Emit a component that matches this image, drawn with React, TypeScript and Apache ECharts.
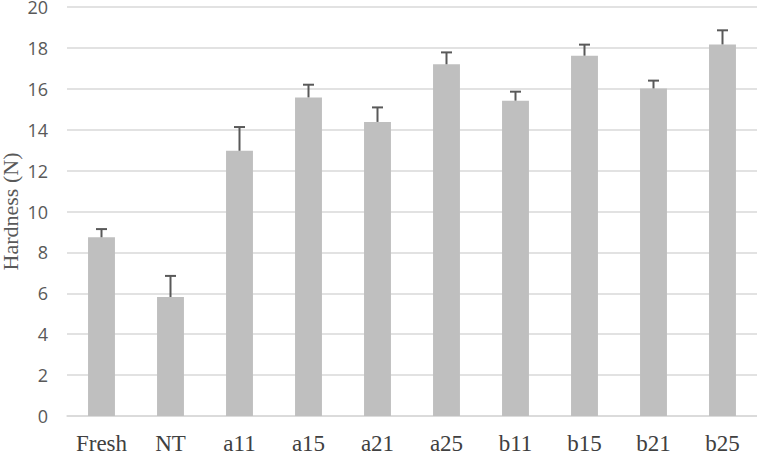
import React, { useEffect, useRef } from "react";
import * as echarts from "echarts";

const categories = ["Fresh", "NT", "a11", "a15", "a21", "a25", "b11", "b15", "b21", "b25"];
const hardness = [8.74, 5.82, 12.97, 15.58, 14.38, 17.2, 15.42, 17.62, 16.02, 18.17];
const errorUp = [0.4, 1.03, 1.16, 0.62, 0.71, 0.58, 0.44, 0.54, 0.38, 0.69];
const yTicks = { min: 0, max: 20, interval: 2 };

export default function App() {
  const ref = useRef<HTMLDivElement>(null);
  useEffect(() => {
    if (!ref.current) return;
    const chart = echarts.init(ref.current, undefined, { renderer: "svg" });
    const errData = categories.map((c, i) => [i, hardness[i], hardness[i] + errorUp[i]]);
    chart.setOption({
      animation: false,
      grid: { left: 67, right: 0, top: 7, bottom: 36, containLabel: false, outerBoundsMode: "none" },
      xAxis: {
        type: "category",
        data: categories,
        axisLine: { show: true, lineStyle: { color: "#d9d9d9", width: 1.5 } },
        axisTick: { show: false },
        axisLabel: {
          fontFamily: "Liberation Serif",
          fontSize: 23,
          color: "#404040",
          margin: 16,
        },
      },
      yAxis: {
        type: "value",
        min: yTicks.min,
        max: yTicks.max,
        interval: yTicks.interval,
        name: "Hardness (N)",
        nameLocation: "middle",
        nameGap: 46,
        nameMoveOverlap: false,
        nameTextStyle: { fontFamily: "Liberation Serif", fontSize: 22, color: "#595959" },
        axisLine: { show: false },
        axisTick: { show: false },
        axisLabel: { fontFamily: "Open Sans", fontSize: 18, color: "#595959", margin: 19 },
        splitLine: { lineStyle: { color: "#d9d9d9", width: 1.5 } },
      },
      series: [
        {
          type: "bar",
          data: hardness,
          barWidth: "39%",
          itemStyle: { color: "#bfbfbf" },
        },
        {
          type: "custom",
          data: errData,
          z: 10,
          renderItem: (params: any, api: any) => {
            const x = api.value(0);
            const lo = api.coord([x, api.value(1)]);
            const hi = api.coord([x, api.value(2)]);
            const half = 5.5;
            const style = { stroke: "#595959", lineWidth: 2 };
            return {
              type: "group",
              children: [
                { type: "line", shape: { x1: lo[0], y1: lo[1], x2: hi[0], y2: hi[1] }, style },
                { type: "line", shape: { x1: hi[0] - half, y1: hi[1], x2: hi[0] + half, y2: hi[1] }, style },
              ],
            };
          },
        },
      ],
    });
    return () => chart.dispose();
  }, []);
  return (
    <div
      ref={ref}
      style={{ position: "fixed", left: 0, top: 0, width: 757, height: 452, background: "#fff" }}
    />
  );
}
